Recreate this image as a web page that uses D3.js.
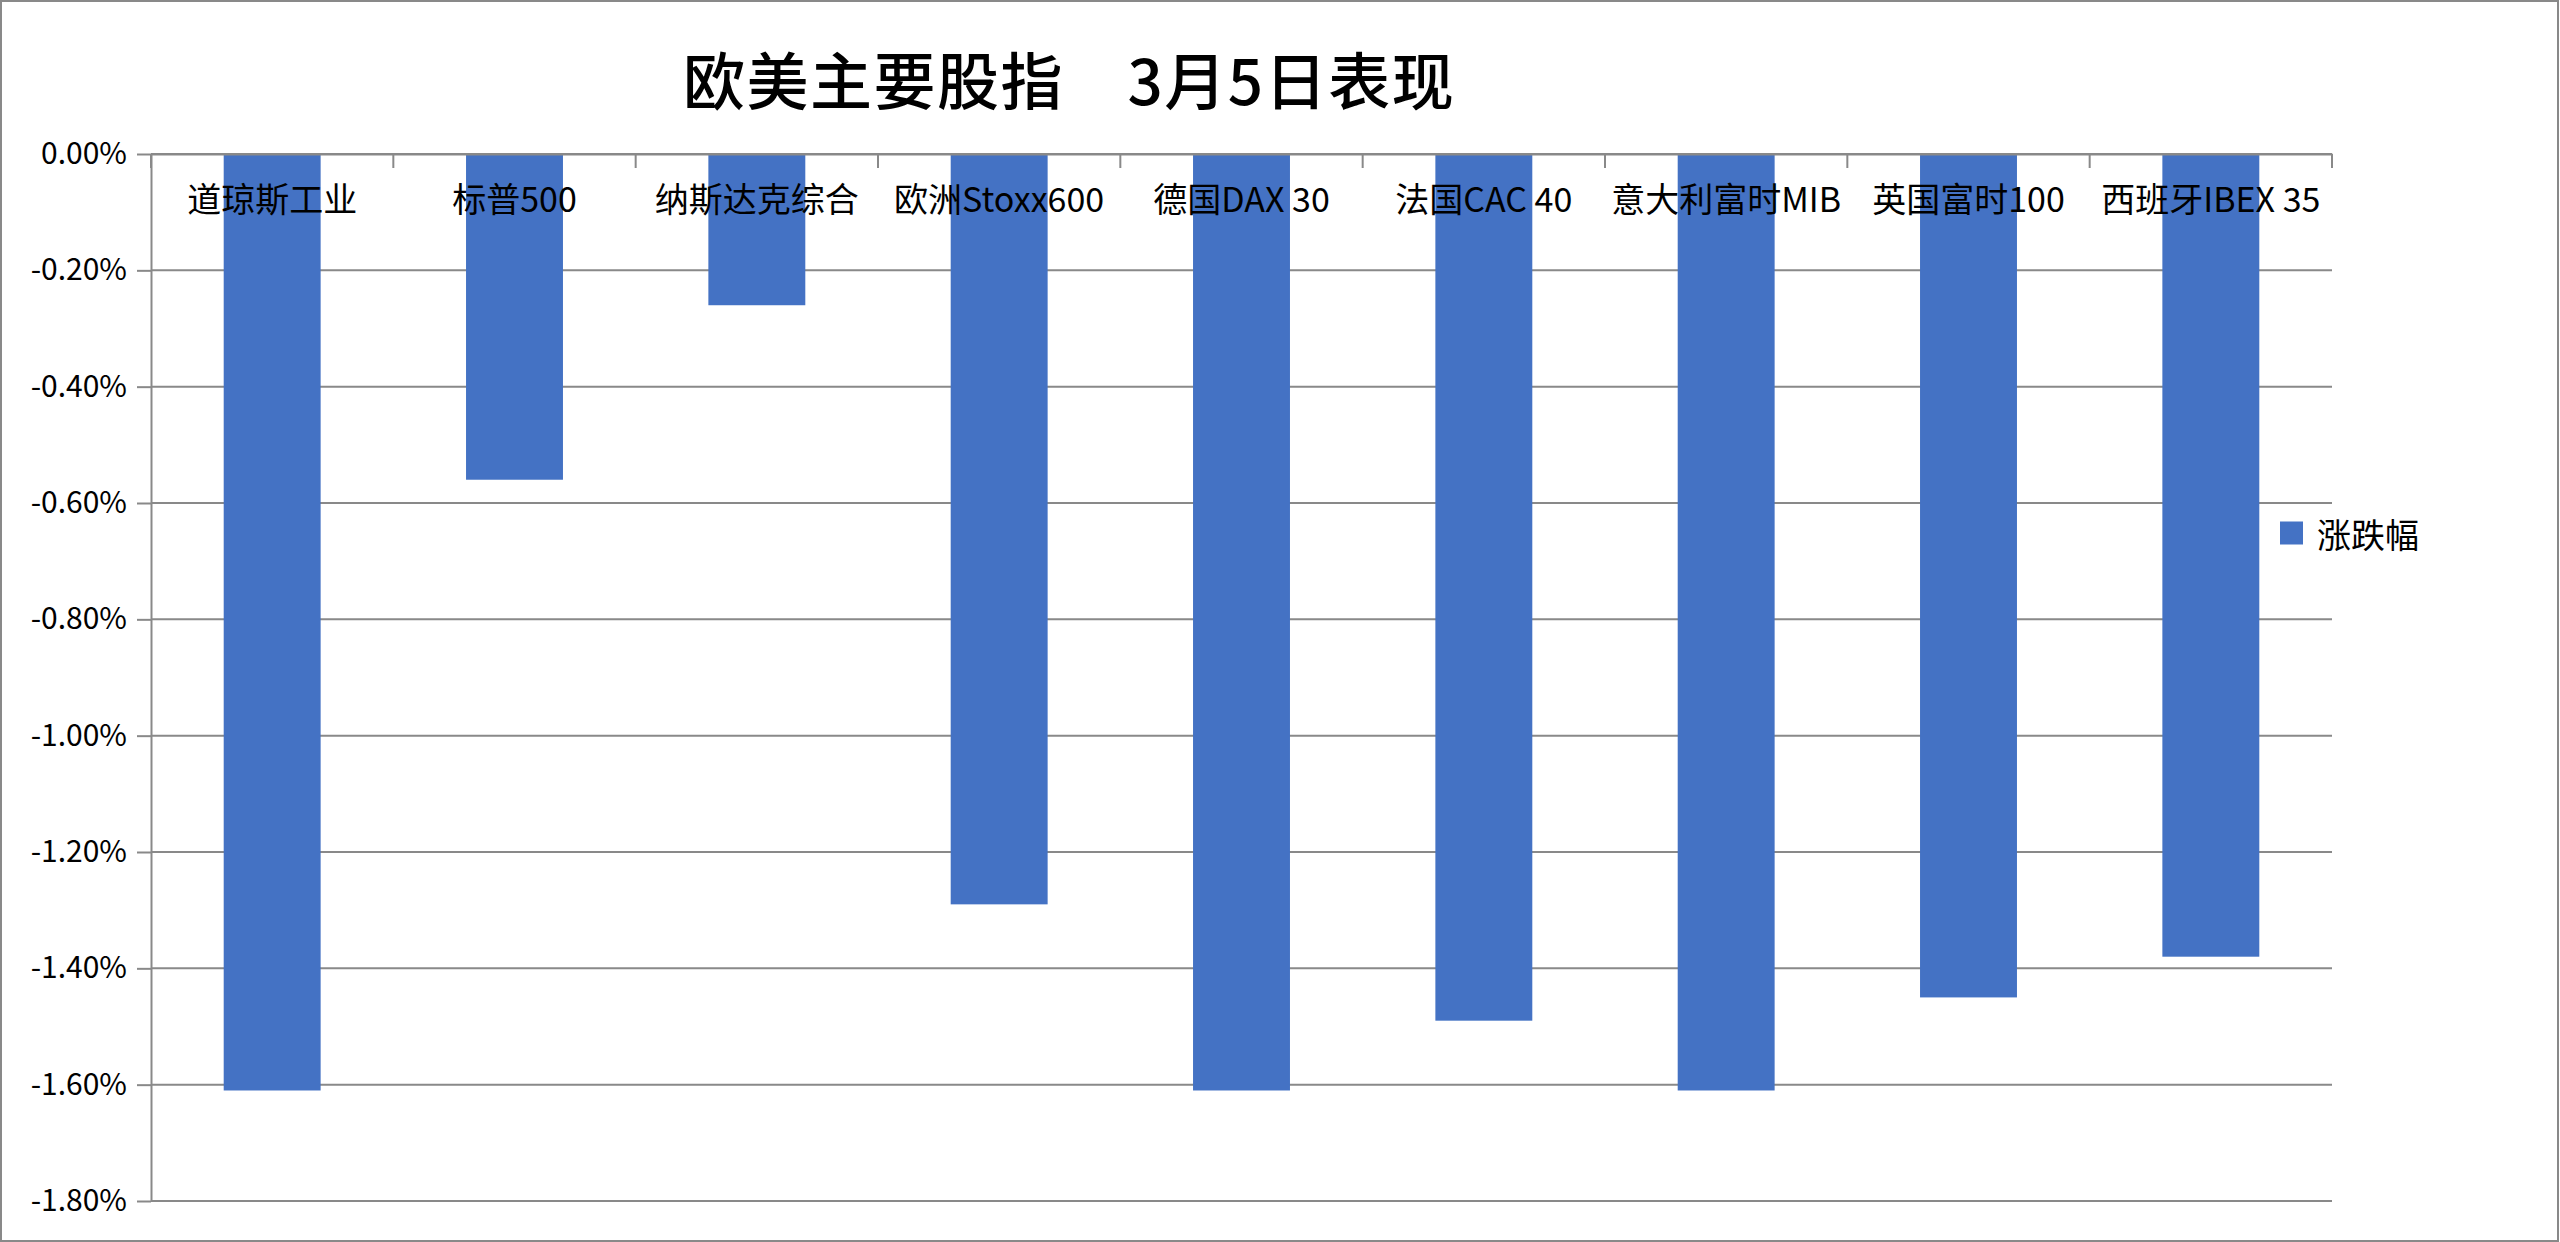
<!DOCTYPE html>
<html>
<head>
<meta charset="utf-8">
<script src="https://cdn.jsdelivr.net/npm/d3@7"></script>
<style>
  body { margin: 0; background: #fff; }
  svg { display: block; }
</style>
</head>
<body>
<svg id="chart" width="2560" height="1242"></svg>
<script>
var categories = ["道琼斯工业", "标普500", "纳斯达克综合", "欧洲Stoxx600", "德国DAX 30", "法国CAC 40", "意大利富时MIB", "英国富时100", "西班牙IBEX 35"];
var changes = [-1.61, -0.56, -0.26, -1.29, -1.61, -1.49, -1.61, -1.45, -1.38];
var yTickValues = [0, -0.2, -0.4, -0.6, -0.8, -1.0, -1.2, -1.4, -1.6, -1.8];
var seriesName = "涨跌幅";
var titleText = "欧美主要股指\u30003月5日表现";

var svg = d3.select("#chart"),
    W = +svg.attr("width"),
    H = +svg.attr("height"),
    plot = {left: 151, right: 2332, top: 154, bottom: 1201},
    font = "'Noto Sans CJK SC', 'Noto Sans', sans-serif",
    grey = "#898989",
    barColor = "#4472c4";

// chart area border
svg.append("rect")
    .attr("x", 1).attr("y", 1)
    .attr("width", W - 3).attr("height", H - 2)
    .attr("fill", "#fff")
    .attr("stroke", grey)
    .attr("stroke-width", 2);

svg.append("text")
    .attr("x", 683)
    .attr("y", 78)
    .attr("dominant-baseline", "central")
    .attr("font-family", font)
    .attr("font-size", 62)
    .attr("font-weight", 500)
    .attr("letter-spacing", 1.5)
    .attr("fill", "#000")
    .text(titleText);

var x = d3.scaleBand()
    .domain(categories)
    .range([plot.left, plot.right])
    .paddingInner(0.6)
    .paddingOuter(0.3);

var y = d3.scaleLinear()
    .domain([-1.8, 0])
    .range([plot.bottom, plot.top]);

var g = svg.append("g");

// horizontal gridlines
g.append("g").selectAll("line")
    .data(yTickValues)
    .enter().append("line")
    .attr("x1", plot.left).attr("x2", plot.right)
    .attr("y1", function(d) { return y(d); })
    .attr("y2", function(d) { return y(d); })
    .attr("stroke", grey)
    .attr("stroke-width", 2);

var yAxis = d3.axisLeft(y)
    .tickValues(yTickValues)
    .tickSize(14)
    .tickSizeOuter(0)
    .tickPadding(10)
    .tickFormat(function(d) { return (d < 0 ? "-" : "") + Math.abs(d).toFixed(2) + "%"; });

g.append("g")
    .attr("transform", "translate(" + plot.left + ",0)")
    .call(customYAxis);

// bars
g.append("g").selectAll("rect")
    .data(changes)
    .enter().append("rect")
    .attr("x", function(d, i) { return x(categories[i]); })
    .attr("y", y(0))
    .attr("width", x.bandwidth())
    .attr("height", function(d) { return y(d) - y(0); })
    .attr("fill", barColor);

// category axis sits on the zero line, ticks between bands
var xAxis = d3.axisBottom(x)
    .tickSize(0)
    .tickSizeOuter(0)
    .tickPadding(0);

g.append("g")
    .attr("transform", "translate(0," + y(0) + ")")
    .call(customXAxis);

var gap = (x.step() - x.bandwidth()) / 2;
g.append("g").selectAll("line")
    .data(d3.range(categories.length + 1))
    .enter().append("line")
    .attr("x1", function(i) { return i < categories.length ? x(categories[i]) - gap : x(categories[i - 1]) + x.bandwidth() + gap; })
    .attr("x2", function(i) { return i < categories.length ? x(categories[i]) - gap : x(categories[i - 1]) + x.bandwidth() + gap; })
    .attr("y1", y(0))
    .attr("y2", y(0) + 14)
    .attr("stroke", grey)
    .attr("stroke-width", 2);

// legend
var legend = svg.append("g").attr("transform", "translate(2280,533)");
legend.append("rect")
    .attr("x", 0).attr("y", -11.5)
    .attr("width", 23).attr("height", 23)
    .attr("fill", barColor);
legend.append("text")
    .attr("x", 37)
    .attr("y", 0)
    .attr("dominant-baseline", "central")
    .attr("font-family", font)
    .attr("font-size", 34)
    .attr("fill", "#000")
    .text(seriesName);

function customYAxis(a) {
  a.call(yAxis);
  a.select(".domain").attr("stroke", grey).attr("stroke-width", 2);
  a.selectAll(".tick line").attr("stroke", grey).attr("stroke-width", 2);
  a.selectAll(".tick text")
      .attr("font-family", font)
      .attr("font-size", 30)
      .attr("fill", "#000");
}

function customXAxis(a) {
  a.call(xAxis);
  a.select(".domain").attr("stroke", grey).attr("stroke-width", 2);
  a.selectAll(".tick text")
      .attr("y", 43)
      .attr("dy", null)
      .attr("dominant-baseline", "central")
      .attr("font-family", font)
      .attr("font-size", 34)
      .attr("fill", "#000");
}
</script>
</body>
</html>
